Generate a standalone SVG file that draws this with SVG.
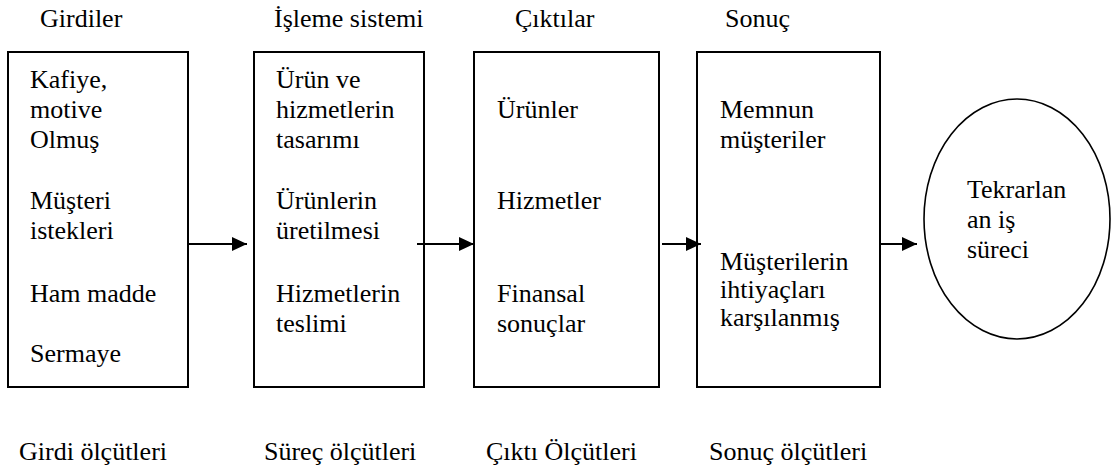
<svg xmlns="http://www.w3.org/2000/svg" width="1117" height="470" viewBox="0 0 1117 470" font-family="'Liberation Serif', 'Times New Roman', Times, 'DejaVu Serif', serif">
<style>
text{font-family:'Liberation Serif','Times New Roman',Times,'DejaVu Serif',serif;font-size:26px;fill:#000}
.box{fill:#fff;stroke:#000;stroke-width:2}
.ell{fill:#fff;stroke:#000;stroke-width:1.6}
.conn{stroke:#000;stroke-width:2;fill:none}
</style>
<defs>
<marker id="ah" markerWidth="15" markerHeight="14" refX="15" refY="7" orient="auto" markerUnits="userSpaceOnUse">
<path d="M0,0 L15,7 L0,14 Z" fill="#000"/>
</marker>
</defs>
<rect width="1117" height="470" fill="#fff"/>
<g id="headers">
<text x="40" y="27">Girdiler</text>
<text x="274" y="27">İşleme sistemi</text>
<text x="515" y="27">Çıktılar</text>
<text x="725" y="27">Sonuç</text>
</g>
<g id="node-girdiler">
<rect class="box" x="8" y="52" width="180" height="335"/>
<text x="30" y="88">Kafiye,</text>
<text x="30" y="118">motive</text>
<text x="30" y="148">Olmuş</text>
<text x="30" y="209">Müşteri</text>
<text x="30" y="239">istekleri</text>
<text x="30" y="302">Ham madde</text>
<text x="30" y="362">Sermaye</text>
</g>
<g id="node-isleme">
<rect class="box" x="254" y="52" width="170" height="335"/>
<text x="276" y="88">Ürün ve</text>
<text x="276" y="118">hizmetlerin</text>
<text x="276" y="148">tasarımı</text>
<text x="276" y="209">Ürünlerin</text>
<text x="276" y="239">üretilmesi</text>
<text x="276" y="302">Hizmetlerin</text>
<text x="276" y="332">teslimi</text>
</g>
<g id="node-ciktilar">
<rect class="box" x="474" y="52" width="185" height="335"/>
<text x="497" y="118">Ürünler</text>
<text x="497" y="209">Hizmetler</text>
<text x="497" y="302">Finansal</text>
<text x="497" y="332">sonuçlar</text>
</g>
<g id="node-sonuc">
<rect class="box" x="697" y="52" width="183" height="335"/>
<text x="720" y="118">Memnun</text>
<text x="720" y="148">müşteriler</text>
<text x="720" y="270">Müşterilerin</text>
<text x="720" y="298">ihtiyaçları</text>
<text x="720" y="326">karşılanmış</text>
</g>
<g id="node-surec">
<ellipse class="ell" cx="1017" cy="219" rx="93" ry="120"/>
<text x="967" y="198">Tekrarlan</text>
<text x="967" y="228">an iş</text>
<text x="967" y="258">süreci</text>
</g>
<g id="connectors">
<line class="conn" x1="188" y1="244" x2="247" y2="244" marker-end="url(#ah)"/>
<line class="conn" x1="417" y1="244" x2="474" y2="244" marker-end="url(#ah)"/>
<line class="conn" x1="662" y1="244" x2="701" y2="244" marker-end="url(#ah)"/>
<line class="conn" x1="880" y1="244" x2="917" y2="244" marker-end="url(#ah)"/>
</g>
<g id="footers">
<text x="19" y="460">Girdi ölçütleri</text>
<text x="264" y="460">Süreç ölçütleri</text>
<text x="486" y="460">Çıktı Ölçütleri</text>
<text x="709" y="460">Sonuç ölçütleri</text>
</g>
</svg>
